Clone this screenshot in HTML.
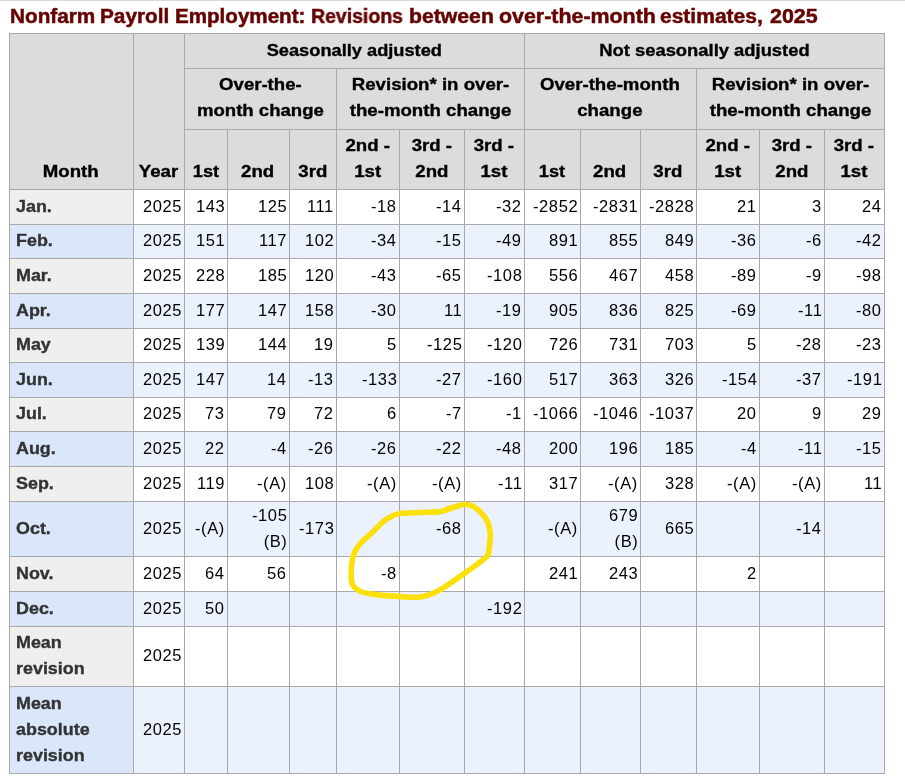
<!DOCTYPE html>
<html><head><meta charset="utf-8"><title>Nonfarm Payroll Employment Revisions</title>
<style>
html,body{margin:0;padding:0;background:#fff;}
body{width:905px;height:777px;position:relative;overflow:hidden;font-family:"Liberation Sans",sans-serif;font-size:16.5px;}
.r{position:absolute;}
.t{position:absolute;white-space:nowrap;line-height:26px;}
.t span{display:inline-block;will-change:transform;}
.b span{-webkit-text-stroke:0.35px currentColor;}
.ov{position:absolute;left:0;top:0;}
#topline{position:absolute;left:0;top:0;width:905px;height:1px;background:#d9d9d9;}
.tw{position:absolute;will-change:transform;-webkit-text-stroke:0.5px currentColor;top:0px;white-space:nowrap;font-weight:bold;font-size:20px;line-height:32px;color:#650303;transform-origin:left;}
</style></head><body>
<div id="topline"></div>
<div class="tw" style="left:10.16px;transform:scaleX(1.0375)">Nonfarm</div><div class="tw" style="left:100.26px;transform:scaleX(1.0391)">Payroll</div><div class="tw" style="left:174.57px;transform:scaleX(1.0290)">Employment:</div><div class="tw" style="left:310.73px;transform:scaleX(0.9731)">Revisions</div><div class="tw" style="left:408.94px;transform:scaleX(1.0603)">between</div><div class="tw" style="left:499.33px;transform:scaleX(1.0694)">over-the-month</div><div class="tw" style="left:660.25px;transform:scaleX(1.0505)">estimates,</div><div class="tw" style="left:769.60px;transform:scaleX(1.0727)">2025</div>
<div class="r" style="left:9px;top:33px;width:875px;height:156px;background:#dcdcdc"></div>
<div class="r" style="left:9px;top:189px;width:124px;height:35px;background:#efefef"></div>
<div class="r" style="left:133px;top:189px;width:751px;height:35px;background:#ffffff"></div>
<div class="r" style="left:9px;top:224px;width:124px;height:34px;background:#dae7fb"></div>
<div class="r" style="left:133px;top:224px;width:751px;height:34px;background:#ebf2fe"></div>
<div class="r" style="left:9px;top:258px;width:124px;height:35px;background:#efefef"></div>
<div class="r" style="left:133px;top:258px;width:751px;height:35px;background:#ffffff"></div>
<div class="r" style="left:9px;top:293px;width:124px;height:35px;background:#dae7fb"></div>
<div class="r" style="left:133px;top:293px;width:751px;height:35px;background:#ebf2fe"></div>
<div class="r" style="left:9px;top:328px;width:124px;height:34px;background:#efefef"></div>
<div class="r" style="left:133px;top:328px;width:751px;height:34px;background:#ffffff"></div>
<div class="r" style="left:9px;top:362px;width:124px;height:35px;background:#dae7fb"></div>
<div class="r" style="left:133px;top:362px;width:751px;height:35px;background:#ebf2fe"></div>
<div class="r" style="left:9px;top:397px;width:124px;height:34px;background:#efefef"></div>
<div class="r" style="left:133px;top:397px;width:751px;height:34px;background:#ffffff"></div>
<div class="r" style="left:9px;top:431px;width:124px;height:35px;background:#dae7fb"></div>
<div class="r" style="left:133px;top:431px;width:751px;height:35px;background:#ebf2fe"></div>
<div class="r" style="left:9px;top:466px;width:124px;height:35px;background:#efefef"></div>
<div class="r" style="left:133px;top:466px;width:751px;height:35px;background:#ffffff"></div>
<div class="r" style="left:9px;top:501px;width:124px;height:55px;background:#dae7fb"></div>
<div class="r" style="left:133px;top:501px;width:751px;height:55px;background:#ebf2fe"></div>
<div class="r" style="left:9px;top:556px;width:124px;height:35px;background:#efefef"></div>
<div class="r" style="left:133px;top:556px;width:751px;height:35px;background:#ffffff"></div>
<div class="r" style="left:9px;top:591px;width:124px;height:35px;background:#dae7fb"></div>
<div class="r" style="left:133px;top:591px;width:751px;height:35px;background:#ebf2fe"></div>
<div class="r" style="left:9px;top:626px;width:124px;height:60px;background:#efefef"></div>
<div class="r" style="left:133px;top:626px;width:751px;height:60px;background:#ffffff"></div>
<div class="r" style="left:9px;top:686px;width:124px;height:87px;background:#dae7fb"></div>
<div class="r" style="left:133px;top:686px;width:751px;height:87px;background:#ebf2fe"></div>
<div class="r" style="left:9px;top:33px;width:876px;height:1px;background:#a9a9a9"></div>
<div class="r" style="left:184px;top:68px;width:701px;height:1px;background:#a9a9a9"></div>
<div class="r" style="left:184px;top:129px;width:701px;height:1px;background:#a9a9a9"></div>
<div class="r" style="left:9px;top:189px;width:876px;height:1px;background:#a9a9a9"></div>
<div class="r" style="left:9px;top:224px;width:876px;height:1px;background:#a9a9a9"></div>
<div class="r" style="left:9px;top:258px;width:876px;height:1px;background:#a9a9a9"></div>
<div class="r" style="left:9px;top:293px;width:876px;height:1px;background:#a9a9a9"></div>
<div class="r" style="left:9px;top:328px;width:876px;height:1px;background:#a9a9a9"></div>
<div class="r" style="left:9px;top:362px;width:876px;height:1px;background:#a9a9a9"></div>
<div class="r" style="left:9px;top:397px;width:876px;height:1px;background:#a9a9a9"></div>
<div class="r" style="left:9px;top:431px;width:876px;height:1px;background:#a9a9a9"></div>
<div class="r" style="left:9px;top:466px;width:876px;height:1px;background:#a9a9a9"></div>
<div class="r" style="left:9px;top:501px;width:876px;height:1px;background:#a9a9a9"></div>
<div class="r" style="left:9px;top:556px;width:876px;height:1px;background:#a9a9a9"></div>
<div class="r" style="left:9px;top:591px;width:876px;height:1px;background:#a9a9a9"></div>
<div class="r" style="left:9px;top:626px;width:876px;height:1px;background:#a9a9a9"></div>
<div class="r" style="left:9px;top:686px;width:876px;height:1px;background:#a9a9a9"></div>
<div class="r" style="left:9px;top:773px;width:876px;height:1px;background:#a9a9a9"></div>
<div class="r" style="left:9px;top:33px;width:1px;height:741px;background:#a9a9a9"></div>
<div class="r" style="left:133px;top:33px;width:1px;height:741px;background:#a9a9a9"></div>
<div class="r" style="left:184px;top:33px;width:1px;height:741px;background:#a9a9a9"></div>
<div class="r" style="left:524px;top:33px;width:1px;height:741px;background:#a9a9a9"></div>
<div class="r" style="left:884px;top:33px;width:1px;height:741px;background:#a9a9a9"></div>
<div class="r" style="left:336px;top:68px;width:1px;height:706px;background:#a9a9a9"></div>
<div class="r" style="left:696px;top:68px;width:1px;height:706px;background:#a9a9a9"></div>
<div class="r" style="left:227px;top:129px;width:1px;height:645px;background:#a9a9a9"></div>
<div class="r" style="left:289px;top:129px;width:1px;height:645px;background:#a9a9a9"></div>
<div class="r" style="left:399px;top:129px;width:1px;height:645px;background:#a9a9a9"></div>
<div class="r" style="left:464px;top:129px;width:1px;height:645px;background:#a9a9a9"></div>
<div class="r" style="left:580px;top:129px;width:1px;height:645px;background:#a9a9a9"></div>
<div class="r" style="left:640px;top:129px;width:1px;height:645px;background:#a9a9a9"></div>
<div class="r" style="left:759px;top:129px;width:1px;height:645px;background:#a9a9a9"></div>
<div class="r" style="left:824px;top:129px;width:1px;height:645px;background:#a9a9a9"></div>
<div class="t b" style="left:9px;top:157.78px;width:124px;text-align:center;font-weight:bold;color:#000"><span style="transform:scaleX(1.13);transform-origin:center">Month</span></div>
<div class="t b" style="left:133px;top:157.78px;width:51px;text-align:center;font-weight:bold;color:#000"><span style="transform:scaleX(1.13);transform-origin:center">Year</span></div>
<div class="t b" style="left:184px;top:36.88px;width:340px;text-align:center;font-weight:bold;color:#000"><span style="transform:scaleX(1.105);transform-origin:center">Seasonally adjusted</span></div>
<div class="t b" style="left:524px;top:36.88px;width:360px;text-align:center;font-weight:bold;color:#000"><span style="transform:scaleX(1.114);transform-origin:center">Not seasonally adjusted</span></div>
<div class="t b" style="left:184px;top:70.68px;width:152px;text-align:center;font-weight:bold;color:#000"><span style="transform:scaleX(1.125);transform-origin:center">Over-the-<br>month change</span></div>
<div class="t b" style="left:336px;top:70.68px;width:188px;text-align:center;font-weight:bold;color:#000"><span style="transform:scaleX(1.13);transform-origin:center">Revision* in over-<br>the-month change</span></div>
<div class="t b" style="left:524px;top:70.68px;width:172px;text-align:center;font-weight:bold;color:#000"><span style="transform:scaleX(1.13);transform-origin:center">Over-the-month<br>change</span></div>
<div class="t b" style="left:696px;top:70.68px;width:188px;text-align:center;font-weight:bold;color:#000"><span style="transform:scaleX(1.13);transform-origin:center">Revision* in over-<br>the-month change</span></div>
<div class="t b" style="left:184px;top:158.18px;width:43px;text-align:center;font-weight:bold;color:#000"><span style="transform:scaleX(1.1);transform-origin:center">1st</span></div>
<div class="t b" style="left:227px;top:158.18px;width:62px;text-align:center;font-weight:bold;color:#000"><span style="transform:scaleX(1.13);transform-origin:center">2nd</span></div>
<div class="t b" style="left:289px;top:158.18px;width:47px;text-align:center;font-weight:bold;color:#000"><span style="transform:scaleX(1.13);transform-origin:center">3rd</span></div>
<div class="t b" style="left:336px;top:132.18px;width:63px;text-align:center;font-weight:bold;color:#000"><span style="transform:scaleX(1.13);transform-origin:center">2nd -<br>1st</span></div>
<div class="t b" style="left:399px;top:132.18px;width:65px;text-align:center;font-weight:bold;color:#000"><span style="transform:scaleX(1.13);transform-origin:center">3rd -<br>2nd</span></div>
<div class="t b" style="left:464px;top:132.18px;width:60px;text-align:center;font-weight:bold;color:#000"><span style="transform:scaleX(1.13);transform-origin:center">3rd -<br>1st</span></div>
<div class="t b" style="left:524px;top:158.18px;width:56px;text-align:center;font-weight:bold;color:#000"><span style="transform:scaleX(1.1);transform-origin:center">1st</span></div>
<div class="t b" style="left:580px;top:158.18px;width:60px;text-align:center;font-weight:bold;color:#000"><span style="transform:scaleX(1.13);transform-origin:center">2nd</span></div>
<div class="t b" style="left:640px;top:158.18px;width:56px;text-align:center;font-weight:bold;color:#000"><span style="transform:scaleX(1.13);transform-origin:center">3rd</span></div>
<div class="t b" style="left:696px;top:132.18px;width:63px;text-align:center;font-weight:bold;color:#000"><span style="transform:scaleX(1.13);transform-origin:center">2nd -<br>1st</span></div>
<div class="t b" style="left:759px;top:132.18px;width:65px;text-align:center;font-weight:bold;color:#000"><span style="transform:scaleX(1.13);transform-origin:center">3rd -<br>2nd</span></div>
<div class="t b" style="left:824px;top:132.18px;width:60px;text-align:center;font-weight:bold;color:#000"><span style="transform:scaleX(1.13);transform-origin:center">3rd -<br>1st</span></div>
<div class="t b" style="left:15.5px;top:192.90px;width:117.5px;text-align:left;font-weight:bold;color:#333333"><span style="transform:scaleX(1.085);transform-origin:left">Jan.</span></div>
<div class="t" style="left:133px;top:192.68px;width:49px;text-align:right;font-weight:normal;color:#000;letter-spacing:0.6px;margin-right:-0.6px"><span style="transform:scaleX(1.0);transform-origin:right">2025</span></div>
<div class="t" style="left:184px;top:192.68px;width:41px;text-align:right;font-weight:normal;color:#000;letter-spacing:0.6px;margin-right:-0.6px"><span style="transform:scaleX(1.0);transform-origin:right">143</span></div>
<div class="t" style="left:227px;top:192.68px;width:60px;text-align:right;font-weight:normal;color:#000;letter-spacing:0.6px;margin-right:-0.6px"><span style="transform:scaleX(1.0);transform-origin:right">125</span></div>
<div class="t" style="left:289px;top:192.68px;width:45px;text-align:right;font-weight:normal;color:#000;letter-spacing:0.6px;margin-right:-0.6px"><span style="transform:scaleX(1.0);transform-origin:right">111</span></div>
<div class="t" style="left:336px;top:192.68px;width:61px;text-align:right;font-weight:normal;color:#000;letter-spacing:0.6px;margin-right:-0.6px"><span style="transform:scaleX(1.0);transform-origin:right">-18</span></div>
<div class="t" style="left:399px;top:192.68px;width:63px;text-align:right;font-weight:normal;color:#000;letter-spacing:0.6px;margin-right:-0.6px"><span style="transform:scaleX(1.0);transform-origin:right">-14</span></div>
<div class="t" style="left:464px;top:192.68px;width:58px;text-align:right;font-weight:normal;color:#000;letter-spacing:0.6px;margin-right:-0.6px"><span style="transform:scaleX(1.0);transform-origin:right">-32</span></div>
<div class="t" style="left:524px;top:192.68px;width:54px;text-align:right;font-weight:normal;color:#000;letter-spacing:0.6px;margin-right:-0.6px"><span style="transform:scaleX(1.0);transform-origin:right">-2852</span></div>
<div class="t" style="left:580px;top:192.68px;width:58px;text-align:right;font-weight:normal;color:#000;letter-spacing:0.6px;margin-right:-0.6px"><span style="transform:scaleX(1.0);transform-origin:right">-2831</span></div>
<div class="t" style="left:640px;top:192.68px;width:54px;text-align:right;font-weight:normal;color:#000;letter-spacing:0.6px;margin-right:-0.6px"><span style="transform:scaleX(1.0);transform-origin:right">-2828</span></div>
<div class="t" style="left:696px;top:192.68px;width:61px;text-align:right;font-weight:normal;color:#000;letter-spacing:0.6px;margin-right:-0.6px"><span style="transform:scaleX(1.0);transform-origin:right">21</span></div>
<div class="t" style="left:759px;top:192.68px;width:63px;text-align:right;font-weight:normal;color:#000;letter-spacing:0.6px;margin-right:-0.6px"><span style="transform:scaleX(1.0);transform-origin:right">3</span></div>
<div class="t" style="left:824px;top:192.68px;width:58px;text-align:right;font-weight:normal;color:#000;letter-spacing:0.6px;margin-right:-0.6px"><span style="transform:scaleX(1.0);transform-origin:right">24</span></div>
<div class="t b" style="left:15.5px;top:227.40px;width:117.5px;text-align:left;font-weight:bold;color:#333333"><span style="transform:scaleX(1.085);transform-origin:left">Feb.</span></div>
<div class="t" style="left:133px;top:227.18px;width:49px;text-align:right;font-weight:normal;color:#000;letter-spacing:0.6px;margin-right:-0.6px"><span style="transform:scaleX(1.0);transform-origin:right">2025</span></div>
<div class="t" style="left:184px;top:227.18px;width:41px;text-align:right;font-weight:normal;color:#000;letter-spacing:0.6px;margin-right:-0.6px"><span style="transform:scaleX(1.0);transform-origin:right">151</span></div>
<div class="t" style="left:227px;top:227.18px;width:60px;text-align:right;font-weight:normal;color:#000;letter-spacing:0.6px;margin-right:-0.6px"><span style="transform:scaleX(1.0);transform-origin:right">117</span></div>
<div class="t" style="left:289px;top:227.18px;width:45px;text-align:right;font-weight:normal;color:#000;letter-spacing:0.6px;margin-right:-0.6px"><span style="transform:scaleX(1.0);transform-origin:right">102</span></div>
<div class="t" style="left:336px;top:227.18px;width:61px;text-align:right;font-weight:normal;color:#000;letter-spacing:0.6px;margin-right:-0.6px"><span style="transform:scaleX(1.0);transform-origin:right">-34</span></div>
<div class="t" style="left:399px;top:227.18px;width:63px;text-align:right;font-weight:normal;color:#000;letter-spacing:0.6px;margin-right:-0.6px"><span style="transform:scaleX(1.0);transform-origin:right">-15</span></div>
<div class="t" style="left:464px;top:227.18px;width:58px;text-align:right;font-weight:normal;color:#000;letter-spacing:0.6px;margin-right:-0.6px"><span style="transform:scaleX(1.0);transform-origin:right">-49</span></div>
<div class="t" style="left:524px;top:227.18px;width:54px;text-align:right;font-weight:normal;color:#000;letter-spacing:0.6px;margin-right:-0.6px"><span style="transform:scaleX(1.0);transform-origin:right">891</span></div>
<div class="t" style="left:580px;top:227.18px;width:58px;text-align:right;font-weight:normal;color:#000;letter-spacing:0.6px;margin-right:-0.6px"><span style="transform:scaleX(1.0);transform-origin:right">855</span></div>
<div class="t" style="left:640px;top:227.18px;width:54px;text-align:right;font-weight:normal;color:#000;letter-spacing:0.6px;margin-right:-0.6px"><span style="transform:scaleX(1.0);transform-origin:right">849</span></div>
<div class="t" style="left:696px;top:227.18px;width:61px;text-align:right;font-weight:normal;color:#000;letter-spacing:0.6px;margin-right:-0.6px"><span style="transform:scaleX(1.0);transform-origin:right">-36</span></div>
<div class="t" style="left:759px;top:227.18px;width:63px;text-align:right;font-weight:normal;color:#000;letter-spacing:0.6px;margin-right:-0.6px"><span style="transform:scaleX(1.0);transform-origin:right">-6</span></div>
<div class="t" style="left:824px;top:227.18px;width:58px;text-align:right;font-weight:normal;color:#000;letter-spacing:0.6px;margin-right:-0.6px"><span style="transform:scaleX(1.0);transform-origin:right">-42</span></div>
<div class="t b" style="left:15.5px;top:261.90px;width:117.5px;text-align:left;font-weight:bold;color:#333333"><span style="transform:scaleX(1.085);transform-origin:left">Mar.</span></div>
<div class="t" style="left:133px;top:261.68px;width:49px;text-align:right;font-weight:normal;color:#000;letter-spacing:0.6px;margin-right:-0.6px"><span style="transform:scaleX(1.0);transform-origin:right">2025</span></div>
<div class="t" style="left:184px;top:261.68px;width:41px;text-align:right;font-weight:normal;color:#000;letter-spacing:0.6px;margin-right:-0.6px"><span style="transform:scaleX(1.0);transform-origin:right">228</span></div>
<div class="t" style="left:227px;top:261.68px;width:60px;text-align:right;font-weight:normal;color:#000;letter-spacing:0.6px;margin-right:-0.6px"><span style="transform:scaleX(1.0);transform-origin:right">185</span></div>
<div class="t" style="left:289px;top:261.68px;width:45px;text-align:right;font-weight:normal;color:#000;letter-spacing:0.6px;margin-right:-0.6px"><span style="transform:scaleX(1.0);transform-origin:right">120</span></div>
<div class="t" style="left:336px;top:261.68px;width:61px;text-align:right;font-weight:normal;color:#000;letter-spacing:0.6px;margin-right:-0.6px"><span style="transform:scaleX(1.0);transform-origin:right">-43</span></div>
<div class="t" style="left:399px;top:261.68px;width:63px;text-align:right;font-weight:normal;color:#000;letter-spacing:0.6px;margin-right:-0.6px"><span style="transform:scaleX(1.0);transform-origin:right">-65</span></div>
<div class="t" style="left:464px;top:261.68px;width:58px;text-align:right;font-weight:normal;color:#000;letter-spacing:0.6px;margin-right:-0.6px"><span style="transform:scaleX(1.0);transform-origin:right">-108</span></div>
<div class="t" style="left:524px;top:261.68px;width:54px;text-align:right;font-weight:normal;color:#000;letter-spacing:0.6px;margin-right:-0.6px"><span style="transform:scaleX(1.0);transform-origin:right">556</span></div>
<div class="t" style="left:580px;top:261.68px;width:58px;text-align:right;font-weight:normal;color:#000;letter-spacing:0.6px;margin-right:-0.6px"><span style="transform:scaleX(1.0);transform-origin:right">467</span></div>
<div class="t" style="left:640px;top:261.68px;width:54px;text-align:right;font-weight:normal;color:#000;letter-spacing:0.6px;margin-right:-0.6px"><span style="transform:scaleX(1.0);transform-origin:right">458</span></div>
<div class="t" style="left:696px;top:261.68px;width:61px;text-align:right;font-weight:normal;color:#000;letter-spacing:0.6px;margin-right:-0.6px"><span style="transform:scaleX(1.0);transform-origin:right">-89</span></div>
<div class="t" style="left:759px;top:261.68px;width:63px;text-align:right;font-weight:normal;color:#000;letter-spacing:0.6px;margin-right:-0.6px"><span style="transform:scaleX(1.0);transform-origin:right">-9</span></div>
<div class="t" style="left:824px;top:261.68px;width:58px;text-align:right;font-weight:normal;color:#000;letter-spacing:0.6px;margin-right:-0.6px"><span style="transform:scaleX(1.0);transform-origin:right">-98</span></div>
<div class="t b" style="left:15.5px;top:296.90px;width:117.5px;text-align:left;font-weight:bold;color:#333333"><span style="transform:scaleX(1.085);transform-origin:left">Apr.</span></div>
<div class="t" style="left:133px;top:296.68px;width:49px;text-align:right;font-weight:normal;color:#000;letter-spacing:0.6px;margin-right:-0.6px"><span style="transform:scaleX(1.0);transform-origin:right">2025</span></div>
<div class="t" style="left:184px;top:296.68px;width:41px;text-align:right;font-weight:normal;color:#000;letter-spacing:0.6px;margin-right:-0.6px"><span style="transform:scaleX(1.0);transform-origin:right">177</span></div>
<div class="t" style="left:227px;top:296.68px;width:60px;text-align:right;font-weight:normal;color:#000;letter-spacing:0.6px;margin-right:-0.6px"><span style="transform:scaleX(1.0);transform-origin:right">147</span></div>
<div class="t" style="left:289px;top:296.68px;width:45px;text-align:right;font-weight:normal;color:#000;letter-spacing:0.6px;margin-right:-0.6px"><span style="transform:scaleX(1.0);transform-origin:right">158</span></div>
<div class="t" style="left:336px;top:296.68px;width:61px;text-align:right;font-weight:normal;color:#000;letter-spacing:0.6px;margin-right:-0.6px"><span style="transform:scaleX(1.0);transform-origin:right">-30</span></div>
<div class="t" style="left:399px;top:296.68px;width:63px;text-align:right;font-weight:normal;color:#000;letter-spacing:0.6px;margin-right:-0.6px"><span style="transform:scaleX(1.0);transform-origin:right">11</span></div>
<div class="t" style="left:464px;top:296.68px;width:58px;text-align:right;font-weight:normal;color:#000;letter-spacing:0.6px;margin-right:-0.6px"><span style="transform:scaleX(1.0);transform-origin:right">-19</span></div>
<div class="t" style="left:524px;top:296.68px;width:54px;text-align:right;font-weight:normal;color:#000;letter-spacing:0.6px;margin-right:-0.6px"><span style="transform:scaleX(1.0);transform-origin:right">905</span></div>
<div class="t" style="left:580px;top:296.68px;width:58px;text-align:right;font-weight:normal;color:#000;letter-spacing:0.6px;margin-right:-0.6px"><span style="transform:scaleX(1.0);transform-origin:right">836</span></div>
<div class="t" style="left:640px;top:296.68px;width:54px;text-align:right;font-weight:normal;color:#000;letter-spacing:0.6px;margin-right:-0.6px"><span style="transform:scaleX(1.0);transform-origin:right">825</span></div>
<div class="t" style="left:696px;top:296.68px;width:61px;text-align:right;font-weight:normal;color:#000;letter-spacing:0.6px;margin-right:-0.6px"><span style="transform:scaleX(1.0);transform-origin:right">-69</span></div>
<div class="t" style="left:759px;top:296.68px;width:63px;text-align:right;font-weight:normal;color:#000;letter-spacing:0.6px;margin-right:-0.6px"><span style="transform:scaleX(1.0);transform-origin:right">-11</span></div>
<div class="t" style="left:824px;top:296.68px;width:58px;text-align:right;font-weight:normal;color:#000;letter-spacing:0.6px;margin-right:-0.6px"><span style="transform:scaleX(1.0);transform-origin:right">-80</span></div>
<div class="t b" style="left:15.5px;top:331.40px;width:117.5px;text-align:left;font-weight:bold;color:#333333"><span style="transform:scaleX(1.085);transform-origin:left">May</span></div>
<div class="t" style="left:133px;top:331.18px;width:49px;text-align:right;font-weight:normal;color:#000;letter-spacing:0.6px;margin-right:-0.6px"><span style="transform:scaleX(1.0);transform-origin:right">2025</span></div>
<div class="t" style="left:184px;top:331.18px;width:41px;text-align:right;font-weight:normal;color:#000;letter-spacing:0.6px;margin-right:-0.6px"><span style="transform:scaleX(1.0);transform-origin:right">139</span></div>
<div class="t" style="left:227px;top:331.18px;width:60px;text-align:right;font-weight:normal;color:#000;letter-spacing:0.6px;margin-right:-0.6px"><span style="transform:scaleX(1.0);transform-origin:right">144</span></div>
<div class="t" style="left:289px;top:331.18px;width:45px;text-align:right;font-weight:normal;color:#000;letter-spacing:0.6px;margin-right:-0.6px"><span style="transform:scaleX(1.0);transform-origin:right">19</span></div>
<div class="t" style="left:336px;top:331.18px;width:61px;text-align:right;font-weight:normal;color:#000;letter-spacing:0.6px;margin-right:-0.6px"><span style="transform:scaleX(1.0);transform-origin:right">5</span></div>
<div class="t" style="left:399px;top:331.18px;width:63px;text-align:right;font-weight:normal;color:#000;letter-spacing:0.6px;margin-right:-0.6px"><span style="transform:scaleX(1.0);transform-origin:right">-125</span></div>
<div class="t" style="left:464px;top:331.18px;width:58px;text-align:right;font-weight:normal;color:#000;letter-spacing:0.6px;margin-right:-0.6px"><span style="transform:scaleX(1.0);transform-origin:right">-120</span></div>
<div class="t" style="left:524px;top:331.18px;width:54px;text-align:right;font-weight:normal;color:#000;letter-spacing:0.6px;margin-right:-0.6px"><span style="transform:scaleX(1.0);transform-origin:right">726</span></div>
<div class="t" style="left:580px;top:331.18px;width:58px;text-align:right;font-weight:normal;color:#000;letter-spacing:0.6px;margin-right:-0.6px"><span style="transform:scaleX(1.0);transform-origin:right">731</span></div>
<div class="t" style="left:640px;top:331.18px;width:54px;text-align:right;font-weight:normal;color:#000;letter-spacing:0.6px;margin-right:-0.6px"><span style="transform:scaleX(1.0);transform-origin:right">703</span></div>
<div class="t" style="left:696px;top:331.18px;width:61px;text-align:right;font-weight:normal;color:#000;letter-spacing:0.6px;margin-right:-0.6px"><span style="transform:scaleX(1.0);transform-origin:right">5</span></div>
<div class="t" style="left:759px;top:331.18px;width:63px;text-align:right;font-weight:normal;color:#000;letter-spacing:0.6px;margin-right:-0.6px"><span style="transform:scaleX(1.0);transform-origin:right">-28</span></div>
<div class="t" style="left:824px;top:331.18px;width:58px;text-align:right;font-weight:normal;color:#000;letter-spacing:0.6px;margin-right:-0.6px"><span style="transform:scaleX(1.0);transform-origin:right">-23</span></div>
<div class="t b" style="left:15.5px;top:365.90px;width:117.5px;text-align:left;font-weight:bold;color:#333333"><span style="transform:scaleX(1.085);transform-origin:left">Jun.</span></div>
<div class="t" style="left:133px;top:365.68px;width:49px;text-align:right;font-weight:normal;color:#000;letter-spacing:0.6px;margin-right:-0.6px"><span style="transform:scaleX(1.0);transform-origin:right">2025</span></div>
<div class="t" style="left:184px;top:365.68px;width:41px;text-align:right;font-weight:normal;color:#000;letter-spacing:0.6px;margin-right:-0.6px"><span style="transform:scaleX(1.0);transform-origin:right">147</span></div>
<div class="t" style="left:227px;top:365.68px;width:60px;text-align:right;font-weight:normal;color:#000;letter-spacing:0.6px;margin-right:-0.6px"><span style="transform:scaleX(1.0);transform-origin:right">14</span></div>
<div class="t" style="left:289px;top:365.68px;width:45px;text-align:right;font-weight:normal;color:#000;letter-spacing:0.6px;margin-right:-0.6px"><span style="transform:scaleX(1.0);transform-origin:right">-13</span></div>
<div class="t" style="left:336px;top:365.68px;width:61px;text-align:right;font-weight:normal;color:#000;letter-spacing:0.6px;margin-right:-0.6px"><span style="transform:scaleX(1.0);transform-origin:right">-133</span></div>
<div class="t" style="left:399px;top:365.68px;width:63px;text-align:right;font-weight:normal;color:#000;letter-spacing:0.6px;margin-right:-0.6px"><span style="transform:scaleX(1.0);transform-origin:right">-27</span></div>
<div class="t" style="left:464px;top:365.68px;width:58px;text-align:right;font-weight:normal;color:#000;letter-spacing:0.6px;margin-right:-0.6px"><span style="transform:scaleX(1.0);transform-origin:right">-160</span></div>
<div class="t" style="left:524px;top:365.68px;width:54px;text-align:right;font-weight:normal;color:#000;letter-spacing:0.6px;margin-right:-0.6px"><span style="transform:scaleX(1.0);transform-origin:right">517</span></div>
<div class="t" style="left:580px;top:365.68px;width:58px;text-align:right;font-weight:normal;color:#000;letter-spacing:0.6px;margin-right:-0.6px"><span style="transform:scaleX(1.0);transform-origin:right">363</span></div>
<div class="t" style="left:640px;top:365.68px;width:54px;text-align:right;font-weight:normal;color:#000;letter-spacing:0.6px;margin-right:-0.6px"><span style="transform:scaleX(1.0);transform-origin:right">326</span></div>
<div class="t" style="left:696px;top:365.68px;width:61px;text-align:right;font-weight:normal;color:#000;letter-spacing:0.6px;margin-right:-0.6px"><span style="transform:scaleX(1.0);transform-origin:right">-154</span></div>
<div class="t" style="left:759px;top:365.68px;width:63px;text-align:right;font-weight:normal;color:#000;letter-spacing:0.6px;margin-right:-0.6px"><span style="transform:scaleX(1.0);transform-origin:right">-37</span></div>
<div class="t" style="left:824px;top:365.68px;width:58px;text-align:right;font-weight:normal;color:#000;letter-spacing:0.6px;margin-right:-0.6px"><span style="transform:scaleX(1.0);transform-origin:right">-191</span></div>
<div class="t b" style="left:15.5px;top:400.40px;width:117.5px;text-align:left;font-weight:bold;color:#333333"><span style="transform:scaleX(1.085);transform-origin:left">Jul.</span></div>
<div class="t" style="left:133px;top:400.18px;width:49px;text-align:right;font-weight:normal;color:#000;letter-spacing:0.6px;margin-right:-0.6px"><span style="transform:scaleX(1.0);transform-origin:right">2025</span></div>
<div class="t" style="left:184px;top:400.18px;width:41px;text-align:right;font-weight:normal;color:#000;letter-spacing:0.6px;margin-right:-0.6px"><span style="transform:scaleX(1.0);transform-origin:right">73</span></div>
<div class="t" style="left:227px;top:400.18px;width:60px;text-align:right;font-weight:normal;color:#000;letter-spacing:0.6px;margin-right:-0.6px"><span style="transform:scaleX(1.0);transform-origin:right">79</span></div>
<div class="t" style="left:289px;top:400.18px;width:45px;text-align:right;font-weight:normal;color:#000;letter-spacing:0.6px;margin-right:-0.6px"><span style="transform:scaleX(1.0);transform-origin:right">72</span></div>
<div class="t" style="left:336px;top:400.18px;width:61px;text-align:right;font-weight:normal;color:#000;letter-spacing:0.6px;margin-right:-0.6px"><span style="transform:scaleX(1.0);transform-origin:right">6</span></div>
<div class="t" style="left:399px;top:400.18px;width:63px;text-align:right;font-weight:normal;color:#000;letter-spacing:0.6px;margin-right:-0.6px"><span style="transform:scaleX(1.0);transform-origin:right">-7</span></div>
<div class="t" style="left:464px;top:400.18px;width:58px;text-align:right;font-weight:normal;color:#000;letter-spacing:0.6px;margin-right:-0.6px"><span style="transform:scaleX(1.0);transform-origin:right">-1</span></div>
<div class="t" style="left:524px;top:400.18px;width:54px;text-align:right;font-weight:normal;color:#000;letter-spacing:0.6px;margin-right:-0.6px"><span style="transform:scaleX(1.0);transform-origin:right">-1066</span></div>
<div class="t" style="left:580px;top:400.18px;width:58px;text-align:right;font-weight:normal;color:#000;letter-spacing:0.6px;margin-right:-0.6px"><span style="transform:scaleX(1.0);transform-origin:right">-1046</span></div>
<div class="t" style="left:640px;top:400.18px;width:54px;text-align:right;font-weight:normal;color:#000;letter-spacing:0.6px;margin-right:-0.6px"><span style="transform:scaleX(1.0);transform-origin:right">-1037</span></div>
<div class="t" style="left:696px;top:400.18px;width:61px;text-align:right;font-weight:normal;color:#000;letter-spacing:0.6px;margin-right:-0.6px"><span style="transform:scaleX(1.0);transform-origin:right">20</span></div>
<div class="t" style="left:759px;top:400.18px;width:63px;text-align:right;font-weight:normal;color:#000;letter-spacing:0.6px;margin-right:-0.6px"><span style="transform:scaleX(1.0);transform-origin:right">9</span></div>
<div class="t" style="left:824px;top:400.18px;width:58px;text-align:right;font-weight:normal;color:#000;letter-spacing:0.6px;margin-right:-0.6px"><span style="transform:scaleX(1.0);transform-origin:right">29</span></div>
<div class="t b" style="left:15.5px;top:434.90px;width:117.5px;text-align:left;font-weight:bold;color:#333333"><span style="transform:scaleX(1.085);transform-origin:left">Aug.</span></div>
<div class="t" style="left:133px;top:434.68px;width:49px;text-align:right;font-weight:normal;color:#000;letter-spacing:0.6px;margin-right:-0.6px"><span style="transform:scaleX(1.0);transform-origin:right">2025</span></div>
<div class="t" style="left:184px;top:434.68px;width:41px;text-align:right;font-weight:normal;color:#000;letter-spacing:0.6px;margin-right:-0.6px"><span style="transform:scaleX(1.0);transform-origin:right">22</span></div>
<div class="t" style="left:227px;top:434.68px;width:60px;text-align:right;font-weight:normal;color:#000;letter-spacing:0.6px;margin-right:-0.6px"><span style="transform:scaleX(1.0);transform-origin:right">-4</span></div>
<div class="t" style="left:289px;top:434.68px;width:45px;text-align:right;font-weight:normal;color:#000;letter-spacing:0.6px;margin-right:-0.6px"><span style="transform:scaleX(1.0);transform-origin:right">-26</span></div>
<div class="t" style="left:336px;top:434.68px;width:61px;text-align:right;font-weight:normal;color:#000;letter-spacing:0.6px;margin-right:-0.6px"><span style="transform:scaleX(1.0);transform-origin:right">-26</span></div>
<div class="t" style="left:399px;top:434.68px;width:63px;text-align:right;font-weight:normal;color:#000;letter-spacing:0.6px;margin-right:-0.6px"><span style="transform:scaleX(1.0);transform-origin:right">-22</span></div>
<div class="t" style="left:464px;top:434.68px;width:58px;text-align:right;font-weight:normal;color:#000;letter-spacing:0.6px;margin-right:-0.6px"><span style="transform:scaleX(1.0);transform-origin:right">-48</span></div>
<div class="t" style="left:524px;top:434.68px;width:54px;text-align:right;font-weight:normal;color:#000;letter-spacing:0.6px;margin-right:-0.6px"><span style="transform:scaleX(1.0);transform-origin:right">200</span></div>
<div class="t" style="left:580px;top:434.68px;width:58px;text-align:right;font-weight:normal;color:#000;letter-spacing:0.6px;margin-right:-0.6px"><span style="transform:scaleX(1.0);transform-origin:right">196</span></div>
<div class="t" style="left:640px;top:434.68px;width:54px;text-align:right;font-weight:normal;color:#000;letter-spacing:0.6px;margin-right:-0.6px"><span style="transform:scaleX(1.0);transform-origin:right">185</span></div>
<div class="t" style="left:696px;top:434.68px;width:61px;text-align:right;font-weight:normal;color:#000;letter-spacing:0.6px;margin-right:-0.6px"><span style="transform:scaleX(1.0);transform-origin:right">-4</span></div>
<div class="t" style="left:759px;top:434.68px;width:63px;text-align:right;font-weight:normal;color:#000;letter-spacing:0.6px;margin-right:-0.6px"><span style="transform:scaleX(1.0);transform-origin:right">-11</span></div>
<div class="t" style="left:824px;top:434.68px;width:58px;text-align:right;font-weight:normal;color:#000;letter-spacing:0.6px;margin-right:-0.6px"><span style="transform:scaleX(1.0);transform-origin:right">-15</span></div>
<div class="t b" style="left:15.5px;top:469.90px;width:117.5px;text-align:left;font-weight:bold;color:#333333"><span style="transform:scaleX(1.085);transform-origin:left">Sep.</span></div>
<div class="t" style="left:133px;top:469.68px;width:49px;text-align:right;font-weight:normal;color:#000;letter-spacing:0.6px;margin-right:-0.6px"><span style="transform:scaleX(1.0);transform-origin:right">2025</span></div>
<div class="t" style="left:184px;top:469.68px;width:41px;text-align:right;font-weight:normal;color:#000;letter-spacing:0.6px;margin-right:-0.6px"><span style="transform:scaleX(1.0);transform-origin:right">119</span></div>
<div class="t" style="left:227px;top:469.68px;width:60px;text-align:right;font-weight:normal;color:#000;letter-spacing:0.6px;margin-right:-0.6px"><span style="transform:scaleX(1.0);transform-origin:right">-(A)</span></div>
<div class="t" style="left:289px;top:469.68px;width:45px;text-align:right;font-weight:normal;color:#000;letter-spacing:0.6px;margin-right:-0.6px"><span style="transform:scaleX(1.0);transform-origin:right">108</span></div>
<div class="t" style="left:336px;top:469.68px;width:61px;text-align:right;font-weight:normal;color:#000;letter-spacing:0.6px;margin-right:-0.6px"><span style="transform:scaleX(1.0);transform-origin:right">-(A)</span></div>
<div class="t" style="left:399px;top:469.68px;width:63px;text-align:right;font-weight:normal;color:#000;letter-spacing:0.6px;margin-right:-0.6px"><span style="transform:scaleX(1.0);transform-origin:right">-(A)</span></div>
<div class="t" style="left:464px;top:469.68px;width:58px;text-align:right;font-weight:normal;color:#000;letter-spacing:0.6px;margin-right:-0.6px"><span style="transform:scaleX(1.0);transform-origin:right">-11</span></div>
<div class="t" style="left:524px;top:469.68px;width:54px;text-align:right;font-weight:normal;color:#000;letter-spacing:0.6px;margin-right:-0.6px"><span style="transform:scaleX(1.0);transform-origin:right">317</span></div>
<div class="t" style="left:580px;top:469.68px;width:58px;text-align:right;font-weight:normal;color:#000;letter-spacing:0.6px;margin-right:-0.6px"><span style="transform:scaleX(1.0);transform-origin:right">-(A)</span></div>
<div class="t" style="left:640px;top:469.68px;width:54px;text-align:right;font-weight:normal;color:#000;letter-spacing:0.6px;margin-right:-0.6px"><span style="transform:scaleX(1.0);transform-origin:right">328</span></div>
<div class="t" style="left:696px;top:469.68px;width:61px;text-align:right;font-weight:normal;color:#000;letter-spacing:0.6px;margin-right:-0.6px"><span style="transform:scaleX(1.0);transform-origin:right">-(A)</span></div>
<div class="t" style="left:759px;top:469.68px;width:63px;text-align:right;font-weight:normal;color:#000;letter-spacing:0.6px;margin-right:-0.6px"><span style="transform:scaleX(1.0);transform-origin:right">-(A)</span></div>
<div class="t" style="left:824px;top:469.68px;width:58px;text-align:right;font-weight:normal;color:#000;letter-spacing:0.6px;margin-right:-0.6px"><span style="transform:scaleX(1.0);transform-origin:right">11</span></div>
<div class="t b" style="left:15.5px;top:514.90px;width:117.5px;text-align:left;font-weight:bold;color:#333333"><span style="transform:scaleX(1.085);transform-origin:left">Oct.</span></div>
<div class="t" style="left:133px;top:514.68px;width:49px;text-align:right;font-weight:normal;color:#000;letter-spacing:0.6px;margin-right:-0.6px"><span style="transform:scaleX(1.0);transform-origin:right">2025</span></div>
<div class="t" style="left:184px;top:514.68px;width:41px;text-align:right;font-weight:normal;color:#000;letter-spacing:0.6px;margin-right:-0.6px"><span style="transform:scaleX(1.0);transform-origin:right">-(A)</span></div>
<div class="t" style="left:227px;top:501.50px;width:60px;text-align:right;font-weight:normal;color:#000;letter-spacing:0.6px;margin-right:-0.6px"><span style="transform:scaleX(1.0);transform-origin:right">-105<br>(B)</span></div>
<div class="t" style="left:289px;top:514.68px;width:45px;text-align:right;font-weight:normal;color:#000;letter-spacing:0.6px;margin-right:-0.6px"><span style="transform:scaleX(1.0);transform-origin:right">-173</span></div>
<div class="t" style="left:399px;top:514.68px;width:63px;text-align:right;font-weight:normal;color:#000;letter-spacing:0.6px;margin-right:-0.6px"><span style="transform:scaleX(1.0);transform-origin:right">-68</span></div>
<div class="t" style="left:524px;top:514.68px;width:54px;text-align:right;font-weight:normal;color:#000;letter-spacing:0.6px;margin-right:-0.6px"><span style="transform:scaleX(1.0);transform-origin:right">-(A)</span></div>
<div class="t" style="left:580px;top:501.50px;width:58px;text-align:right;font-weight:normal;color:#000;letter-spacing:0.6px;margin-right:-0.6px"><span style="transform:scaleX(1.0);transform-origin:right">679<br>(B)</span></div>
<div class="t" style="left:640px;top:514.68px;width:54px;text-align:right;font-weight:normal;color:#000;letter-spacing:0.6px;margin-right:-0.6px"><span style="transform:scaleX(1.0);transform-origin:right">665</span></div>
<div class="t" style="left:759px;top:514.68px;width:63px;text-align:right;font-weight:normal;color:#000;letter-spacing:0.6px;margin-right:-0.6px"><span style="transform:scaleX(1.0);transform-origin:right">-14</span></div>
<div class="t b" style="left:15.5px;top:559.90px;width:117.5px;text-align:left;font-weight:bold;color:#333333"><span style="transform:scaleX(1.085);transform-origin:left">Nov.</span></div>
<div class="t" style="left:133px;top:559.68px;width:49px;text-align:right;font-weight:normal;color:#000;letter-spacing:0.6px;margin-right:-0.6px"><span style="transform:scaleX(1.0);transform-origin:right">2025</span></div>
<div class="t" style="left:184px;top:559.68px;width:41px;text-align:right;font-weight:normal;color:#000;letter-spacing:0.6px;margin-right:-0.6px"><span style="transform:scaleX(1.0);transform-origin:right">64</span></div>
<div class="t" style="left:227px;top:559.68px;width:60px;text-align:right;font-weight:normal;color:#000;letter-spacing:0.6px;margin-right:-0.6px"><span style="transform:scaleX(1.0);transform-origin:right">56</span></div>
<div class="t" style="left:336px;top:559.68px;width:61px;text-align:right;font-weight:normal;color:#000;letter-spacing:0.6px;margin-right:-0.6px"><span style="transform:scaleX(1.0);transform-origin:right">-8</span></div>
<div class="t" style="left:524px;top:559.68px;width:54px;text-align:right;font-weight:normal;color:#000;letter-spacing:0.6px;margin-right:-0.6px"><span style="transform:scaleX(1.0);transform-origin:right">241</span></div>
<div class="t" style="left:580px;top:559.68px;width:58px;text-align:right;font-weight:normal;color:#000;letter-spacing:0.6px;margin-right:-0.6px"><span style="transform:scaleX(1.0);transform-origin:right">243</span></div>
<div class="t" style="left:696px;top:559.68px;width:61px;text-align:right;font-weight:normal;color:#000;letter-spacing:0.6px;margin-right:-0.6px"><span style="transform:scaleX(1.0);transform-origin:right">2</span></div>
<div class="t b" style="left:15.5px;top:594.90px;width:117.5px;text-align:left;font-weight:bold;color:#333333"><span style="transform:scaleX(1.085);transform-origin:left">Dec.</span></div>
<div class="t" style="left:133px;top:594.68px;width:49px;text-align:right;font-weight:normal;color:#000;letter-spacing:0.6px;margin-right:-0.6px"><span style="transform:scaleX(1.0);transform-origin:right">2025</span></div>
<div class="t" style="left:184px;top:594.68px;width:41px;text-align:right;font-weight:normal;color:#000;letter-spacing:0.6px;margin-right:-0.6px"><span style="transform:scaleX(1.0);transform-origin:right">50</span></div>
<div class="t" style="left:464px;top:594.68px;width:58px;text-align:right;font-weight:normal;color:#000;letter-spacing:0.6px;margin-right:-0.6px"><span style="transform:scaleX(1.0);transform-origin:right">-192</span></div>
<div class="t b" style="left:15.5px;top:629.40px;width:117.5px;text-align:left;font-weight:bold;color:#333333"><span style="transform:scaleX(1.085);transform-origin:left">Mean<br>revision</span></div>
<div class="t" style="left:133px;top:642.18px;width:49px;text-align:right;font-weight:normal;color:#000;letter-spacing:0.6px;margin-right:-0.6px"><span style="transform:scaleX(1.0);transform-origin:right">2025</span></div>
<div class="t b" style="left:15.5px;top:689.90px;width:117.5px;text-align:left;font-weight:bold;color:#333333"><span style="transform:scaleX(1.085);transform-origin:left">Mean<br>absolute<br>revision</span></div>
<div class="t" style="left:133px;top:715.68px;width:49px;text-align:right;font-weight:normal;color:#000;letter-spacing:0.6px;margin-right:-0.6px"><span style="transform:scaleX(1.0);transform-origin:right">2025</span></div>
<svg class="ov" width="905" height="777" viewBox="0 0 905 777"><path d="M391.3,516.4 C394.2,515.0 395.8,514.1 400.6,513.5 C405.4,512.9 413.4,512.8 420.0,512.5 C426.6,512.2 435.4,512.1 440.0,511.6 C444.6,511.1 444.9,510.0 447.7,509.2 C450.5,508.4 453.9,507.4 456.7,506.6 C459.5,505.8 461.7,504.2 464.5,504.2 C467.3,504.2 470.7,505.2 473.5,506.6 C476.3,508.1 478.8,510.3 481.2,512.9 C483.6,515.4 486.1,518.5 487.6,521.9 C489.1,525.3 489.9,529.6 490.2,533.5 C490.5,537.4 490.0,541.4 489.6,545.0 C489.2,548.6 489.4,552.4 487.6,555.4 C485.8,558.4 482.5,560.1 478.6,563.1 C474.8,566.1 469.6,569.8 464.5,573.4 C459.4,577.0 452.6,581.8 447.7,585.0 C442.8,588.2 439.3,590.5 435.0,592.5 C430.7,594.5 426.1,595.9 421.9,596.7 C417.7,597.5 413.6,597.2 410.0,597.2 C406.4,597.2 405.6,597.0 400.6,596.6 C395.6,596.2 386.2,595.8 379.8,595.1 C373.4,594.4 366.8,593.6 362.4,592.2 C358.0,590.8 355.5,588.6 353.7,586.5 C351.9,584.4 351.7,583.6 351.4,579.5 C351.1,575.4 351.3,566.9 352.0,562.1 C352.7,557.3 353.7,554.0 355.4,550.5 C357.1,547.0 359.5,544.4 362.4,541.3 C365.3,538.2 369.3,535.3 372.8,532.0 C376.3,528.7 380.1,524.2 383.2,521.6 C386.3,519.0 388.4,517.8 391.3,516.4Z" fill="none" stroke="#fbe00c" stroke-width="5.6" stroke-linecap="round" stroke-linejoin="round"/><path d="M447,508.2 L457.5,505.2" fill="none" stroke="#fbe00c" stroke-width="4" stroke-linecap="round"/></svg>
</body></html>
